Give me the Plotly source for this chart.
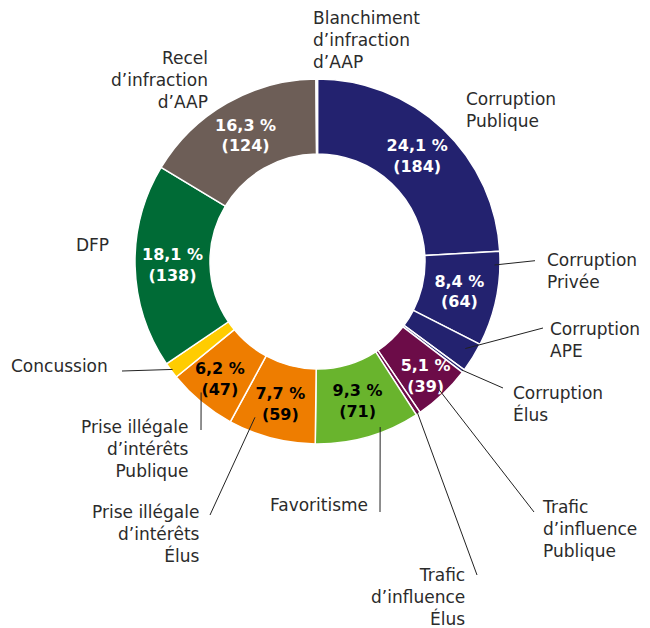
import math
import plotly.graph_objects as go

# ---------------- data ----------------
categories = [
    "Corruption Publique", "Corruption Privée", "Corruption APE", "Corruption Élus",
    "Trafic d'influence Publique", "Trafic d'influence Élus", "Favoritisme",
    "Prise illégale d'intérêts Élus", "Prise illégale d'intérêts Publique",
    "Concussion", "DFP", "Recel d'infraction d'AAP", "Blanchiment d'infraction d'AAP",
]
counts = [184, 64, 20, 2, 39, 3, 71, 59, 47, 11, 138, 124, 1]
label_texts = [
    "Corruption<br>Publique", "Corruption<br>Privée", "Corruption<br>APE", "Corruption<br>Élus",
    "Trafic<br>d’influence<br>Publique", "Trafic<br>d’influence<br>Élus", "Favoritisme",
    "Prise illégale<br>d’intérêts<br>Élus", "Prise illégale<br>d’intérêts<br>Publique",
    "Concussion", "DFP", "Recel<br>d’infraction<br>d’AAP", "Blanchiment<br>d’infraction<br>d’AAP",
]
show_value = [True, True, False, False, True, False, True, True, True, False, True, True, False]

# ---------------- style ----------------
colors = ["#23226f", "#23226f", "#23226f", "#23226f", "#6c0c48", "#6c0c48", "#69b42d",
          "#ee7d00", "#ee7d00", "#ffcc00", "#006b36", "#6d5e57", "#9b918c"]
text_colors = ["white", "white", "white", "white", "white", "white", "black",
               "black", "black", "black", "white", "white", "white"]

W, H = 650, 628
CX, CY, R = 317.5, 261.5, 182.5
HOLE = 107.5 / R
FONT = "DejaVu Sans"
LABEL_FONT = "DejaVu Sans"

# label placement (pixel coords): x, y (middle), anchor
label_pos = [
    (464, 110, "left"), (545, 271, "left"), (548, 340, "left"), (511, 404, "left"),
    (540, 529, "left"), (467, 597, "right"), (370, 505, "right"),
    (202, 534, "right"), (191, 449, "right"), (110, 366, "right"),
    (111, 245, "right"), (210, 80, "right"), (311, 40, "left"),
]
# leader lines: (fraction in slice, radius fraction, outer end x, y) or None
leaders = [
    None, (0.143, 0.97, 535, 260.7), (0.37, 0.94, 543, 328), (0.5, 0.99, 503, 388),
    (0.49, 0.95, 534, 512), (0.5, 0.99, 477, 575), (0.36, 0.97, 380, 512),
    (0.76, 0.92, 210, 515), (0.59, 0.96, 201, 430), (0.5, 0.99, 122, 371),
    None, None, None,
]

total = sum(counts)
texts = []
for c, s in zip(counts, show_value):
    if s:
        pct = f"{c / total * 100:.1f}".replace(".", ",")
        texts.append(f"<b>{pct} %<br>({c})</b>")
    else:
        texts.append("")


def px2paper(x, y):
    return x / W, 1 - y / H


fig = go.Figure(go.Pie(
    labels=categories, values=counts, text=texts, textinfo="text",
    textposition="inside", insidetextorientation="horizontal",
    textfont=dict(family=FONT, size=16, color=text_colors),
    marker=dict(colors=colors, line=dict(color="white", width=1.5)),
    hole=HOLE, sort=False, direction="clockwise", rotation=0,
    hoverinfo="skip", showlegend=False,
    domain=dict(x=[(CX - R) / W, (CX + R) / W], y=[1 - (CY + R) / H, 1 - (CY - R) / H]),
))

# leader lines computed from slice angles
cum = 0
shapes = []
for c, ld in zip(counts, leaders):
    a0 = cum / total * 2 * math.pi
    a1 = (cum + c) / total * 2 * math.pi
    cum += c
    if ld is None:
        continue
    frac, rf, ex, ey = ld
    a = a0 + frac * (a1 - a0)
    ix = CX + rf * R * math.sin(a)
    iy = CY - rf * R * math.cos(a)
    x0, y0 = px2paper(ix, iy)
    x1, y1 = px2paper(ex, ey)
    shapes.append(dict(type="line", xref="paper", yref="paper", x0=x0, y0=y0, x1=x1, y1=y1,
                       line=dict(color="#222222", width=1)))

annotations = []
for t, (lx, ly, anc) in zip(label_texts, label_pos):
    x, y = px2paper(lx, ly)
    annotations.append(dict(text=t, x=x, y=y, xref="paper", yref="paper",
                            xanchor=anc, yanchor="middle", align=anc, showarrow=False,
                            font=dict(family=LABEL_FONT, size=17, color="#2b2b2b")))

fig.update_layout(
    width=W, height=H, margin=dict(l=0, r=0, t=0, b=0),
    paper_bgcolor="white", plot_bgcolor="white",
    shapes=shapes, annotations=annotations,
    uniformtext=dict(minsize=16, mode="show"),
)
fig.write_html("out.html", config={"displayModeBar": False},
               post_script="document.body.style.margin='0';")
